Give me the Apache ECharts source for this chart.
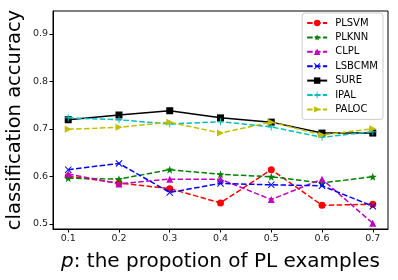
<!DOCTYPE html>
<html><head><meta charset="utf-8">
<script src="https://cdn.jsdelivr.net/npm/echarts@6/dist/echarts.min.js"></script>
<style>html,body{margin:0;padding:0;background:#fff}#c{width:398px;height:280px}</style>
</head><body><div id="c"></div>
<script>
const xs = [0.1, 0.2, 0.3, 0.4, 0.5, 0.6, 0.7];
const xTicks = [0.1, 0.2, 0.3, 0.4, 0.5, 0.6, 0.7];
const yTicks = [0.5, 0.6, 0.7, 0.8, 0.9];
const names = ['PLSVM', 'PLKNN', 'CLPL', 'LSBCMM', 'SURE', 'IPAL', 'PALOC'];
const PLSVM  = [0.600, 0.586, 0.574, 0.544, 0.614, 0.539, 0.541];
const PLKNN  = [0.596, 0.594, 0.614, 0.604, 0.599, 0.586, 0.599];
const CLPL   = [0.605, 0.584, 0.594, 0.594, 0.551, 0.594, 0.501];
const LSBCMM = [0.614, 0.627, 0.566, 0.585, 0.582, 0.580, 0.537];
const SURE   = [0.719, 0.729, 0.738, 0.723, 0.714, 0.691, 0.691];
const IPAL   = [0.723, 0.719, 0.710, 0.715, 0.704, 0.682, 0.694];
const PALOC  = [0.699, 0.703, 0.714, 0.691, 0.714, 0.687, 0.700];

const values = [PLSVM, PLKNN, CLPL, LSBCMM, SURE, IPAL, PALOC];
const colors = ['#ff0000', '#008000', '#bf00bf', '#0000ff', '#000000', '#00bfbf', '#bfbf00'];
const STAR = 'path://M5,0 L6.176,3.382 L9.755,3.455 L6.902,5.618 L7.939,9.045 L5,7 L2.061,9.045 L3.098,5.618 L0.245,3.455 L3.824,3.382 Z';
const XMARK = 'path://M0,1 L1,0 L5,4 L9,0 L10,1 L6,5 L10,9 L9,10 L5,6 L1,10 L0,9 L4,5 Z';
const PLUS = 'path://M4.3,0 L5.7,0 L5.7,4.3 L10,4.3 L10,5.7 L5.7,5.7 L5.7,10 L4.3,10 L4.3,5.7 L0,5.7 L0,4.3 L4.3,4.3 Z';
const RTRI = 'path://M0,0 L10,5 L0,10 Z';
const symbols = ['circle', STAR, 'triangle', XMARK, 'rect', PLUS, RTRI];
const sizes = [7, 8, 7, 7, 7, 7, 7];
const FONT = 'DejaVu Sans';

const series = names.map((n, i) => ({
  name: n,
  type: 'line',
  data: xs.map((x, j) => [x, values[i][j]]),
  symbol: symbols[i],
  symbolSize: sizes[i],
  showAllSymbol: true,
  itemStyle: { color: colors[i] },
  lineStyle: { color: colors[i], width: 1.5, type: n === 'SURE' ? 'solid' : [5.5, 2.4] },
  emphasis: { disabled: true },
  animation: false,
  z: 2 + i
}));

const chart = echarts.init(document.getElementById('c'), null, { renderer: 'canvas' });
chart.setOption({
  animation: false,
  backgroundColor: '#fff',
  grid: { left: 53, right: 10, top: 11, bottom: 51, outerBoundsMode: 'none', containLabel: false,
    show: true, borderColor: '#000', borderWidth: 1, backgroundColor: 'transparent' },
  legend: {
    data: names,
    orient: 'vertical',
    right: 15, top: 13,
    backgroundColor: 'rgba(255,255,255,0.8)',
    borderColor: '#cccccc', borderWidth: 1, borderRadius: 3,
    padding: [5, 5, 5, 4],
    itemWidth: 20, itemHeight: 8, itemGap: 4.4,
    textStyle: { fontFamily: FONT, fontSize: 10, color: '#000', padding: [0, 0, 0, 3] }
  },
  xAxis: {
    type: 'value', min: 0.07, max: 0.73,
    name: '{i|p}: the propotion of PL examples',
    nameLocation: 'middle', nameGap: 23, nameMoveOverlap: false,
    nameTextStyle: { fontFamily: FONT, fontSize: 20, color: '#000',
      rich: { i: { fontFamily: FONT, fontStyle: 'italic', fontSize: 20, color: '#000' } } },
    axisLine: { show: true, lineStyle: { color: '#000', width: 1 } },
    axisTick: { show: true, inside: false, length: 3.5, customValues: xTicks, lineStyle: { color: '#000' } },
    axisLabel: { customValues: xTicks, fontFamily: FONT, fontSize: 9.5, color: '#222', margin: 5,
      formatter: v => v.toFixed(1) },
    splitLine: { show: false }
  },
  yAxis: {
    type: 'value', min: 0.489, max: 0.948,
    name: 'classification accuracy',
    nameLocation: 'middle', nameGap: 28, nameMoveOverlap: false,
    nameTextStyle: { fontFamily: FONT, fontSize: 19.5, color: '#000' },
    axisLine: { show: true, lineStyle: { color: '#000', width: 1 } },
    axisTick: { show: true, inside: false, length: 3.5, customValues: yTicks, lineStyle: { color: '#000' } },
    axisLabel: { customValues: yTicks, fontFamily: FONT, fontSize: 9.5, color: '#222', margin: 5,
      formatter: v => v.toFixed(1) },
    splitLine: { show: false }
  },
  series: series
});
</script></body></html>
